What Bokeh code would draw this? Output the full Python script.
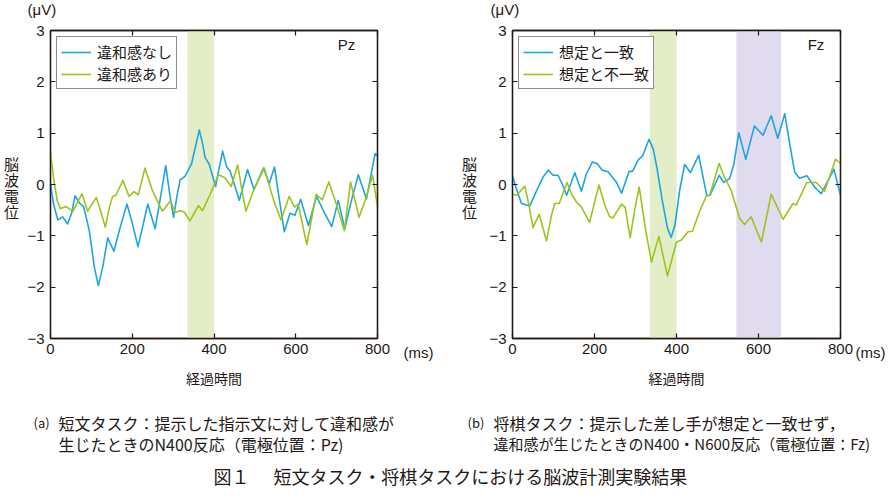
from bokeh.plotting import figure
from bokeh.models import BoxAnnotation, Label, LinearAxis, Legend, LegendItem, Range1d, FixedTicker
from bokeh.layouts import column, row
from bokeh.embed import file_html
from bokeh.resources import INLINE

# ---------------- data ----------------
X_TICKS = [0, 200, 400, 600, 800]
Y_TICKS = [-3, -2, -1, 0, 1, 2, 3]
Y_TICK_LABELS = {-3: "−3", -2: "−2", -1: "−1", 0: "0", 1: "1", 2: "2", 3: "3"}

# (a) Pz : 違和感なし (blue)
pz_none_t = [0, 8, 18, 30, 42, 52, 60, 71, 81, 95, 107, 117, 128, 140, 155, 170, 187, 200, 214, 226,
             238, 256, 268, 282, 292, 301, 310, 317, 329, 345, 355, 364, 372, 378, 388, 404, 412, 421,
             431, 439, 450, 462, 482, 498, 521, 535, 548, 560, 572, 586, 598, 612, 631, 651, 670, 688,
             704, 720, 735, 753, 773, 794, 800]
pz_none_v = [0.0, -0.4, -0.69, -0.63, -0.77, -0.55, -0.22, -0.36, -0.43, -0.9, -1.6, -1.97, -1.6, -1.04,
             -1.3, -0.85, -0.38, -0.75, -1.21, -0.8, -0.38, -0.86, -0.3, 0.37, -0.2, -0.64, -0.2, 0.09,
             0.16, 0.4, 0.75, 1.06, 0.8, 0.53, 0.4, -0.04, 0.3, 0.65, 0.34, 0.27, 0.0, -0.31, 0.29, -0.1,
             0.32, 0.02, 0.34, -0.3, -0.92, -0.56, -0.6, -0.29, -0.8, -0.23, -0.55, -0.82, -0.31, -0.86,
             -0.35, 0.19, -0.28, 0.6, 0.57]

# (a) Pz : 違和感あり (green)
pz_odd_t = [0, 8, 16, 24, 38, 55, 66, 77, 91, 112, 124, 134, 144, 152, 160, 177, 192, 204, 215, 231, 250,
            267, 274, 293, 305, 319, 328, 341, 362, 372, 390, 411, 427, 442, 458, 468, 478, 500, 523, 538,
            550, 564, 584, 597, 606, 627, 650, 665, 681, 700, 719, 734, 755, 770, 788, 800]
pz_odd_v = [0.62, 0.1, -0.3, -0.47, -0.43, -0.52, -0.35, -0.18, -0.52, -0.25, -0.55, -0.83, -0.45, -0.23,
            -0.21, 0.08, -0.23, -0.14, -0.2, 0.32, -0.13, -0.41, -0.52, -0.32, -0.54, -0.51, -0.54, -0.71,
            -0.41, -0.51, -0.2, 0.19, 0.13, -0.04, 0.38, -0.1, -0.52, -0.05, 0.32, -0.1, -0.4, -0.69,
            -0.23, -0.44, -0.38, -1.17, -0.19, -0.3, 0.05, -0.4, -0.9, 0.05, -0.64, -0.3, 0.18, -0.43]

# (b) Fz : 想定と一致 (blue)
fz_match_t = [0, 10, 22, 42, 60, 75, 87, 99, 111, 122, 132, 152, 168, 180, 195, 206, 219, 233, 253, 266,
              284, 293, 306, 318, 333, 343, 352, 365, 378, 387, 396, 408, 420, 434, 454, 474, 482, 504,
              515, 530, 540, 552, 569, 590, 611, 631, 647, 664, 676, 688, 700, 718, 737, 753, 784, 800]
fz_match_v = [0.17, -0.1, -0.37, -0.42, -0.1, 0.15, 0.28, 0.18, 0.18, 0.0, -0.21, 0.23, -0.13, 0.2, 0.44,
              0.41, 0.28, 0.25, 0.05, -0.17, 0.25, 0.26, 0.47, 0.57, 0.88, 0.7, 0.34, -0.3, -0.85, -1.03,
              -0.8, -0.1, 0.39, 0.23, 0.57, -0.22, -0.21, 0.18, 0.04, 0.12, 0.4, 1.01, 0.49, 1.14, 0.96,
              1.34, 0.9, 1.38, 0.8, 0.25, 0.12, 0.17, -0.05, -0.18, 0.3, -0.21]

# (b) Fz : 想定と不一致 (green)
fz_mismatch_t = [0, 11, 30, 40, 50, 65, 83, 95, 103, 114, 133, 145, 156, 168, 188, 200, 211, 225, 237, 245,
                 266, 275, 287, 298, 309, 325, 339, 357, 378, 400, 412, 428, 439, 455, 473, 481, 504, 515,
                 534, 554, 566, 582, 607, 631, 660, 684, 692, 718, 741, 761, 788, 800]
fz_mismatch_v = [-0.19, -0.21, -0.03, -0.4, -0.84, -0.58, -1.1, -0.6, -0.37, -0.37, 0.04, -0.2, -0.34,
                 -0.44, -0.74, -0.35, -0.01, -0.4, -0.63, -0.65, -0.38, -0.45, -1.04, -0.5, -0.05, -0.9,
                 -1.51, -1.01, -1.78, -1.12, -1.08, -0.92, -0.91, -0.55, -0.22, -0.21, 0.41, 0.18, -0.13,
                 -0.66, -0.78, -0.63, -1.12, -0.19, -0.68, -0.37, -0.4, 0.04, 0.04, -0.13, 0.49, 0.41]

# highlighted windows (ms)
pz_windows = [(335, 400, "#e3edc7")]
fz_windows = [(335, 400, "#e3edc7"), (546, 655, "#e0dbee")]

BLUE = "#1ea5e0"
GREEN = "#9cc41f"
DARK = "#231815"
JP = "Noto Sans CJK JP"
LAT = "Liberation Sans"

MAIN_H = 370


def text_strip(width, height):
    """A figure whose frame fills the whole canvas; data units = pixels from its top-left."""
    s = figure(width=width, height=height, x_range=Range1d(0, width), y_range=Range1d(height, 0),
               output_backend="svg", toolbar_location=None, x_axis_type=None, y_axis_type=None,
               min_border=0, frame_align=False)
    s.grid.visible = False
    s.outline_line_color = None
    return s


def put(s, x, y, text, size, font=JP, align="left"):
    s.add_layout(Label(x=x, y=y, text=text, text_font=font, text_font_size=size,
                       text_color=DARK, text_align=align, text_baseline="middle"))


def make_panel(width, left, right, series, windows, tag, tag_t):
    p = figure(width=width, height=MAIN_H, x_range=Range1d(0, 800), y_range=Range1d(-3, 3),
               output_backend="svg", toolbar_location=None,
               min_border_left=left, min_border_right=right, min_border_top=10, min_border_bottom=51)
    p.grid.visible = False
    p.outline_line_color = DARK
    p.outline_line_width = 1.3
    p.background_fill_color = "white"
    p.border_fill_color = "white"

    for (a, b, c) in windows:
        p.add_layout(BoxAnnotation(left=a, right=b, fill_color=c, fill_alpha=1.0,
                                   line_color=None, level="underlay"))

    items = []
    for (t, v, col, name) in series:
        r = p.line(t, v, line_color=col, line_width=1.6, line_join="round")
        items.append(LegendItem(label=name, renderers=[r]))

    for ax in (p.xaxis[0], p.yaxis[0]):
        ax.major_tick_in = 5
        ax.major_tick_out = 0
        ax.minor_tick_line_color = None
        ax.axis_line_color = DARK
        ax.axis_line_width = 1.3
        ax.major_tick_line_color = DARK
        ax.major_tick_line_width = 1.2
        ax.major_label_text_font = LAT
        ax.major_label_text_font_size = "15px"
        ax.major_label_text_color = DARK
    p.xaxis.ticker = FixedTicker(ticks=X_TICKS)
    p.yaxis.ticker = FixedTicker(ticks=Y_TICKS)
    p.yaxis.major_label_overrides = Y_TICK_LABELS
    p.xaxis.major_label_standoff = 5
    p.yaxis.major_label_standoff = 6
    p.xaxis.axis_label = "経過時間"
    p.xaxis.axis_label_text_font = JP
    p.xaxis.axis_label_text_font_size = "14px"
    p.xaxis.axis_label_text_font_style = "normal"
    p.xaxis.axis_label_text_color = DARK
    p.xaxis.axis_label_standoff = 11

    top = LinearAxis(ticker=FixedTicker(ticks=X_TICKS), major_label_overrides={k: "" for k in X_TICKS})
    rgt = LinearAxis(ticker=FixedTicker(ticks=Y_TICKS), major_label_overrides={k: "" for k in Y_TICKS})
    for ax in (top, rgt):
        ax.major_tick_in = 5
        ax.major_tick_out = 0
        ax.minor_tick_line_color = None
        ax.axis_line_color = DARK
        ax.axis_line_width = 1.3
        ax.major_tick_line_color = DARK
        ax.major_tick_line_width = 1.2
        ax.major_label_text_font_size = "1px"
        ax.major_label_standoff = 0
    p.add_layout(top, "above")
    p.add_layout(rgt, "right")

    leg = Legend(items=items, location="top_left", margin=6)
    leg.border_line_color = DARK
    leg.border_line_width = 1.2
    leg.background_fill_alpha = 1.0
    leg.label_text_font = JP
    leg.label_text_font_size = "15px"
    leg.label_text_color = DARK
    leg.glyph_width = 30
    leg.glyph_height = 16
    leg.label_height = 16
    leg.spacing = 1
    leg.padding = 4
    leg.label_standoff = 6
    p.add_layout(leg)

    p.add_layout(Label(x=tag_t, y=2.72, text=tag, text_font=LAT, text_font_size="15px",
                       text_color=DARK, text_baseline="middle"))
    return p


# --- main panels (x: 22..392 and 480..854 of the page) ---
p1 = make_panel(370, 28, 15,
                [(pz_none_t, pz_none_v, BLUE, "違和感なし"), (pz_odd_t, pz_odd_v, GREEN, "違和感あり")],
                pz_windows, "Pz", 703)
p2 = make_panel(374, 32, 14,
                [(fz_match_t, fz_match_v, BLUE, "想定と一致"), (fz_mismatch_t, fz_mismatch_v, GREEN, "想定と不一致")],
                fz_windows, "Fz", 720)

# --- text strips around the panels ---
top_strip = text_strip(890, 20)
put(top_strip, 27, 9, "(μV)", "15px", font=LAT)
put(top_strip, 490, 9, "(μV)", "15px", font=LAT)

strip_a = text_strip(22, MAIN_H)      # page x 0..22
strip_b = text_strip(88, MAIN_H)      # page x 392..480
strip_c = text_strip(36, MAIN_H)      # page x 854..890
for i, ch in enumerate("脳波電位"):
    put(strip_a, 11, 143 + 16 * i, ch, "15px", align="center")
    put(strip_b, 77, 143 + 16 * i, ch, "15px", align="center")
put(strip_b, 11, 332, "(ms)", "15px", font=LAT)
put(strip_c, 1, 332, "(ms)", "15px", font=LAT)

# caption block
p3 = text_strip(890, 110)
put(p3, 33, 32, "(a)", "13px")
put(p3, 58, 32, "短文タスク：提示した指示文に対して違和感が", "16px")
put(p3, 58, 53, "生じたときのN400反応（電極位置：Pz)", "16px")
put(p3, 467, 32, "(b)", "13px")
put(p3, 493, 32, "将棋タスク：提示した差し手が想定と一致せず，", "16px")
put(p3, 493, 53, "違和感が生じたときのN400・N600反応（電極位置：Fz)", "15px")
put(p3, 213, 85, "図１", "18px")
put(p3, 273, 85, "短文タスク・将棋タスクにおける脳波計測実験結果", "18px")

layout = column(top_strip, row(strip_a, p1, strip_b, p2, strip_c), p3)
open("out.html", "w").write(file_html(layout, INLINE))
